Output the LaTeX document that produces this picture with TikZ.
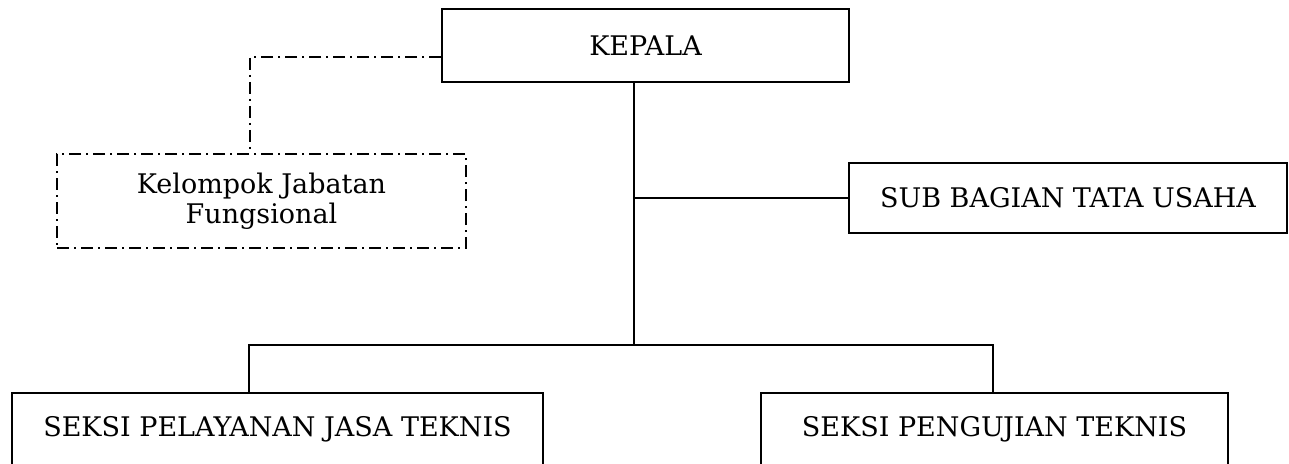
\documentclass[tikz,border=0pt]{standalone}
\usepackage{fontspec}
\setmainfont{DejaVu Serif}
\begin{document}
\begin{tikzpicture}[x=1pt,y=-1pt,
  box/.style={draw, line width=1.8pt, inner sep=0pt, font=\fontsize{27}{30}\selectfont, align=center},
  dd/.style={line width=1.4pt, dash pattern=on 12pt off 5pt on 2pt off 5pt},
  link/.style={line width=1.8pt, line join=miter}]
\useasboundingbox (0,0) rectangle (1289,463);
\clip (0,0) rectangle (1289,463);
\node[box, minimum width=407pt, minimum height=73pt] (kepala) at (645.5,45.5) {KEPALA};
\node[box, minimum width=438pt, minimum height=70pt] (sub) at (1068,198) {SUB BAGIAN TATA USAHA};
\node[box, dd, minimum width=409pt, minimum height=94pt] (jf) at (261.5,201) {Kelompok Jabatan\\Fungsional};
\node[box, minimum width=531pt, minimum height=73pt] (s1) at (277.5,429.5) {SEKSI PELAYANAN JASA TEKNIS};
\node[box, minimum width=467pt, minimum height=73pt] (s2) at (994.5,429.5) {SEKSI PENGUJIAN TEKNIS};
\coordinate (trunk) at (634,345);
\coordinate (bl) at (249,345);
\coordinate (br) at (993,345);
\coordinate (kd) at (442,57);
\coordinate (jx) at (250,0);
\draw[link] (kepala.south -| trunk) -- (trunk);
\draw[link] (sub.west) -- (sub.west -| trunk);
\draw[link] (s1.north -| bl) -- (bl) -- (br) -- (s2.north -| br);
\draw[dd] (kepala.west |- kd) -| (jf.north -| jx);
\end{tikzpicture}
\end{document}
